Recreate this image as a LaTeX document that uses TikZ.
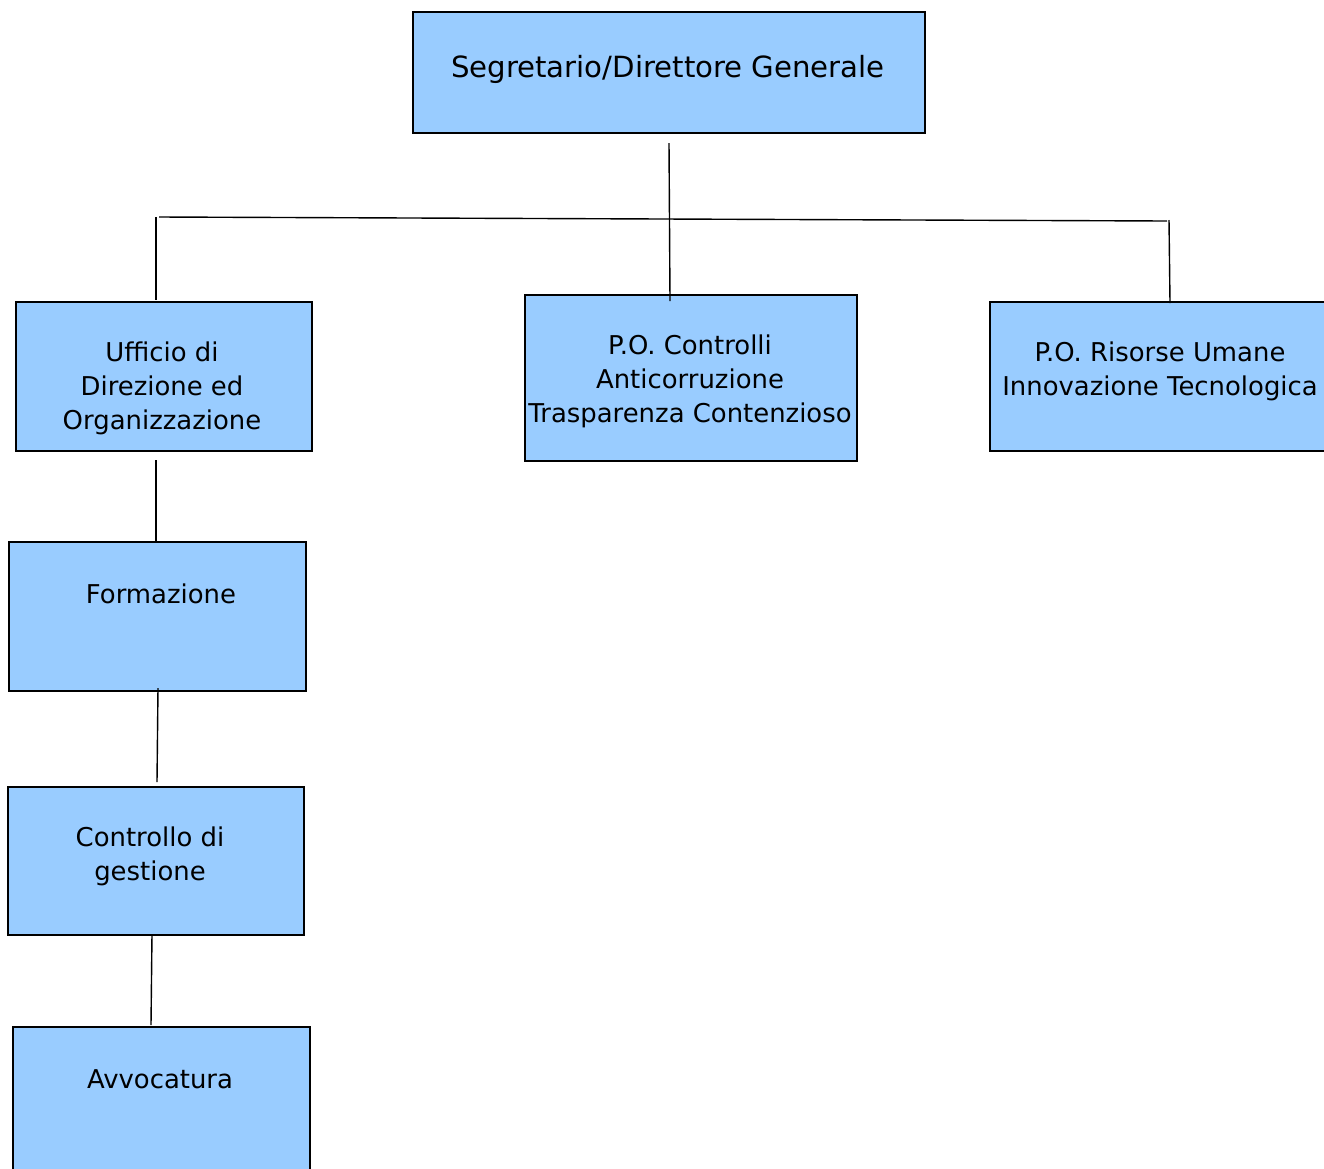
\documentclass[tikz,border=0pt]{standalone}
\usepackage{fontspec}
\setmainfont{DejaVu Sans}
\definecolor{boxblue}{HTML}{99CCFF}
\tikzset{
  box/.style={draw=black, fill=boxblue, line width=1.6pt, rectangle, anchor=north west, inner sep=0pt},
  lbl/.style={align=center, font=\fontsize{25.9}{34}\selectfont, inner sep=0pt},
  conn/.style={line width=1.4pt, black}
}
\begin{document}
\begin{tikzpicture}[x=1pt,y=-1pt]
\useasboundingbox (0,0) rectangle (1324,1168);
\clip (0,0) rectangle (1324,1168);
\fill[white] (0,0) rectangle (1324,1168);
% boxes
\node[box, minimum width=512pt, minimum height=121pt] (sg) at (412,11) {};
\node[box, minimum width=296pt, minimum height=149pt] (uf) at (15,301) {};
\node[box, minimum width=332pt, minimum height=166pt] (pc) at (524,294) {};
\node[box, minimum width=342pt, minimum height=149pt] (pr) at (989,301) {};
\node[box, minimum width=297pt, minimum height=149pt] (fo) at (8,541) {};
\node[box, minimum width=296pt, minimum height=148pt] (cg) at (7,786) {};
\node[box, minimum width=297pt, minimum height=150pt] (av) at (12,1026) {};
% labels
\node[lbl, font=\fontsize{29.2}{36}\selectfont] (sgt) at (668,69) {Segretario/Direttore Generale};
\node[lbl] (uft) at (162,388) {Ufficio di\\Direzione ed\\Organizzazione};
\node[lbl] (pct) at (690,381) {P.O. Controlli\\Anticorruzione\\Trasparenza Contenzioso};
\node[lbl] (prt) at (1160,371) {P.O. Risorse Umane\\Innovazione Tecnologica};
\node[lbl] (fot) at (161,594) {Formazione};
\node[lbl] (cgt) at (150,856) {Controllo di\\gestione};
\node[lbl] (avt) at (160,1079) {Avvocatura};
% connector coordinates
\coordinate (c1) at (669,143);
\coordinate (c2) at (670,301);
\coordinate (hl) at (159,217);
\coordinate (hr) at (1167,221);
\coordinate (l1) at (156,217);
\coordinate (l2) at (156,300);
\coordinate (r1) at (1169,220);
\coordinate (r2) at (1170,303);
\coordinate (f1) at (156,460);
\coordinate (f2) at (156,541);
\coordinate (g1) at (158,688);
\coordinate (g2) at (157,782);
\coordinate (a1) at (152,934);
\coordinate (a2) at (151,1025);
\draw[conn] (c1) -- (c2);
\draw[conn] (hl) -- (hr);
\draw[conn] (l1) -- (l2);
\draw[conn] (r1) -- (r2);
\draw[conn] (f1) -- (f2);
\draw[conn] (g1) -- (g2);
\draw[conn] (a1) -- (a2);
\end{tikzpicture}
\end{document}
